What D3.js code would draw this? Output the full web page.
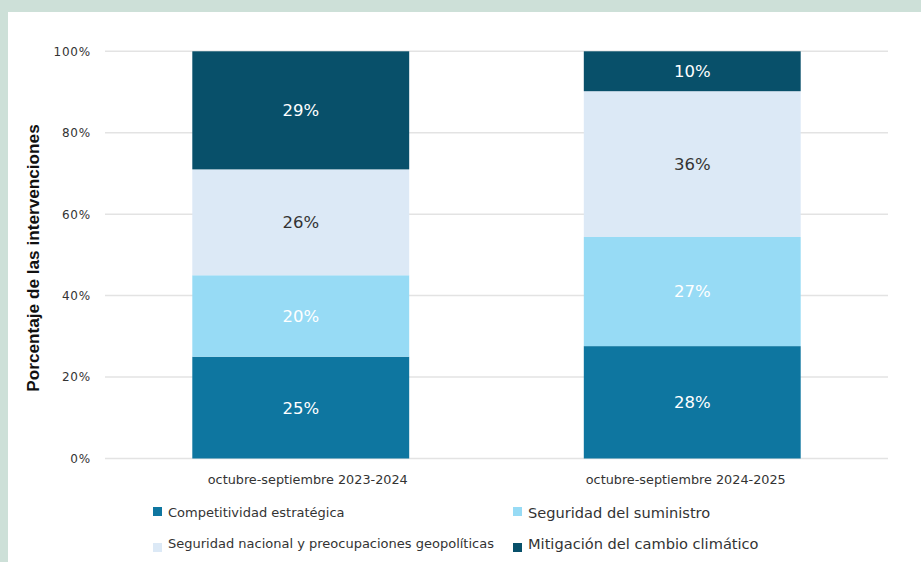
<!DOCTYPE html>
<html><head><meta charset="utf-8">
<script src="https://cdn.jsdelivr.net/npm/d3@7"></script>
<style>
html,body{margin:0;padding:0;background:#cde0d8;}
svg{display:block;}
</style></head>
<body>
<svg id="c" width="921" height="562"></svg>
<script>
const categories = ["octubre-septiembre 2023-2024", "octubre-septiembre 2024-2025"];
const seriesNames = ["Competitividad estratégica", "Seguridad del suministro", "Seguridad nacional y preocupaciones geopolíticas", "Mitigación del cambio climático"];
const competitividad = [25, 27.6];
const suministro = [20, 26.8];
const seguridadNacional = [26, 35.8];
const mitigacion = [29, 9.8];
const yTicks = [0, 20, 40, 60, 80, 100];
const colors = ["#0e76a0", "#97dbf5", "#dce9f6", "#08506a"];
const labelColors = ["#ffffff", "#ffffff", "#333333", "#ffffff"];

const seriesValues = [competitividad, suministro, seguridadNacional, mitigacion];
const rows = categories.map((c, i) => {
  const r = {cat: c};
  seriesNames.forEach((s, j) => r[s] = seriesValues[j][i]);
  return r;
});

const svg = d3.select("#c");
svg.append("rect").attr("x", 8).attr("y", 12).attr("width", 913).attr("height", 550).attr("fill", "#ffffff");

const plot = {left: 105, right: 888, top: 51.3, bottom: 458.5};
const x = d3.scaleBand().domain(categories).range([plot.left, plot.right]).paddingInner(0.446).paddingOuter(0.223);
const y = d3.scaleLinear().domain([0, 100]).range([plot.bottom, plot.top]);

// gridlines
svg.append("g").selectAll("line").data(yTicks).join("line")
  .attr("x1", plot.left).attr("x2", plot.right)
  .attr("y1", d => y(d)).attr("y2", d => y(d))
  .attr("stroke", "#e3e3e3").attr("stroke-width", 1.5);

// y axis labels
const yAxis = d3.axisLeft(y).tickValues(yTicks).tickFormat(d => d + "%").tickSize(0).tickPadding(0);
const ya = svg.append("g").attr("transform", `translate(91,0)`).call(yAxis);
ya.select(".domain").remove();
ya.selectAll("text").attr("font-family", "DejaVu Sans").attr("font-size", 12).attr("fill", "#333").attr("letter-spacing", 0.8).attr("dy", "0.32em");

// x axis labels
const labelShift = [7, -6.5];
const xAxis = d3.axisBottom(x).tickSize(0).tickPadding(0);
const xa = svg.append("g").attr("transform", `translate(0,${plot.bottom})`).call(xAxis);
xa.select(".domain").remove();
xa.selectAll("text").attr("font-family", "DejaVu Sans").attr("font-size", 12.8).attr("fill", "#333").attr("y", 25).attr("dy", 0)
  .attr("dx", (d, i) => labelShift[i]);

// stacks
const stack = d3.stack().keys(seriesNames)(rows);
const g = svg.append("g");
stack.forEach((layer, j) => {
  g.selectAll(null).data(layer).join("rect")
    .attr("x", d => x(d.data.cat)).attr("width", x.bandwidth())
    .attr("y", d => y(d[1])).attr("height", d => y(d[0]) - y(d[1]))
    .attr("fill", colors[j]);
  g.selectAll(null).data(layer).join("text")
    .attr("x", d => x(d.data.cat) + x.bandwidth() / 2)
    .attr("y", d => (y(d[0]) + y(d[1])) / 2)
    .attr("dy", "0.36em")
    .attr("text-anchor", "middle")
    .attr("font-family", "DejaVu Sans").attr("font-size", 16.5)
    .attr("fill", labelColors[j])
    .text(d => Math.round(d[1] - d[0]) + "%");
});

// y title
svg.append("text").attr("transform", "translate(39,258) rotate(-90)")
  .attr("text-anchor", "middle").attr("font-family", "Liberation Sans").attr("font-weight", "bold")
  .attr("font-size", 17.2).attr("fill", "#111").text("Porcentaje de las intervenciones");

// legend
const legPos = [
  {sx: 153, sy: 507, tx: 168, ty: 517, fs: 13},
  {sx: 513, sy: 507, tx: 528, ty: 518, fs: 14.6},
  {sx: 153, sy: 543, tx: 168, ty: 548, fs: 13},
  {sx: 513, sy: 543, tx: 528, ty: 549, fs: 14.6}
];
const leg = svg.append("g");
seriesNames.forEach((s, j) => {
  const p = legPos[j];
  leg.append("rect").attr("x", p.sx).attr("y", p.sy).attr("width", 9).attr("height", 9).attr("fill", colors[j]);
  leg.append("text").attr("x", p.tx).attr("y", p.ty).attr("font-family", "DejaVu Sans").attr("font-size", p.fs).attr("fill", "#333").text(s);
});
</script>
</body></html>
